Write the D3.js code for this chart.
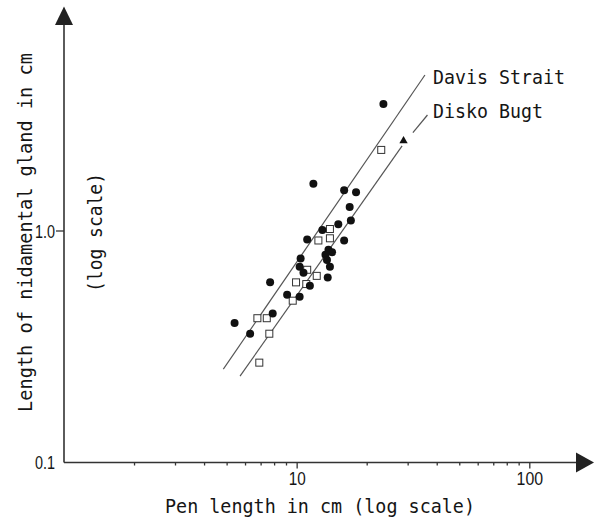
<!DOCTYPE html>
<html>
<head>
<meta charset="utf-8">
<script src="https://cdn.jsdelivr.net/npm/d3@7"></script>
<style>
  body { margin: 0; background: #fff; }
  svg { display: block; }
</style>
</head>
<body>
<div id="chart"></div>
<script>
// Filled circles: pen length (cm), nidamental gland length (cm)
const filledPen = [23.6, 11.8, 16.0, 18.0, 16.9, 17.1, 15.1, 12.9, 11.1, 16.0, 13.7, 14.2, 13.3,
                   13.5, 13.9, 10.4, 10.3, 10.7, 13.6, 7.69, 11.4, 10.3, 9.1, 7.89, 5.41, 6.31];
const filledGland = [3.54, 1.60, 1.50, 1.47, 1.27, 1.11, 1.07, 1.01, 0.92, 0.91, 0.83, 0.81, 0.79,
                     0.75, 0.70, 0.76, 0.70, 0.66, 0.63, 0.60, 0.58, 0.52, 0.53, 0.44, 0.40, 0.36];

// Open squares
const openPen = [23.1, 13.9, 12.4, 13.9, 11.1, 12.2, 9.94, 11.0, 9.62, 6.78, 7.44, 7.63, 6.91];
const openGland = [2.24, 1.02, 0.91, 0.93, 0.68, 0.64, 0.60, 0.59, 0.50, 0.42, 0.42, 0.36, 0.27];

// Filled triangle
const trianglePen = [28.8];
const triangleGland = [2.45];

// Regression lines (end points in data units)
const davisLine = [[4.84, 0.253], [35.6, 4.72]];
const diskoLine = [[5.71, 0.236], [28.4, 2.33]];
const diskoLeader = [[31.6, 2.66], [36.5, 3.17]];

// Tick values
const xMajor = [10, 100];
const xMinor = [2, 3, 4, 5, 6, 7, 8, 9, 20, 30, 40, 50, 60, 70, 80, 90];
const yTickLabels = [{ v: 0.1, t: "0.1" }, { v: 1, t: "1.0" }];

const width = 603;
const height = 519;

const svg = d3.select("#chart")
  .append("svg")
  .attr("width", width)
  .attr("height", height);

svg.append("rect").attr("width", width).attr("height", height).attr("fill", "#fff");

// log scales: origin at (1, 0.1)
const x = d3.scaleLog().domain([1, 100]).range([64, 529.3]);
const y = d3.scaleLog().domain([0.1, 1]).range([462.5, 231]);

const axisColor = "#333";
const textColor = "#151515";
const mono = "'DejaVu Sans Mono', monospace";
const sans = "'Liberation Sans', Arial, sans-serif";

// x axis minor ticks
svg.append("g")
  .attr("transform", `translate(0,${y(0.1)})`)
  .call(d3.axisBottom(x).tickValues(xMinor).tickSize(3).tickFormat(""))
  .call(g => g.select(".domain").remove())
  .call(g => g.selectAll("line").attr("stroke", axisColor).attr("stroke-width", 1.3));

// x axis major ticks
svg.append("g")
  .attr("transform", `translate(0,${y(0.1)})`)
  .call(d3.axisBottom(x).tickValues(xMajor).tickSize(6).tickPadding(4).tickFormat(d3.format("d")))
  .call(g => g.select(".domain").remove())
  .call(g => g.selectAll("line").attr("stroke", axisColor).attr("stroke-width", 1.3))
  .call(g => g.selectAll("text")
    .attr("fill", textColor)
    .style("font-family", sans)
    .style("font-size", "18px")
    .attr("textLength", d => d === 10 ? 17 : 26.5)
    .attr("lengthAdjust", "spacingAndGlyphs"));

// y axis tick (only 1.0 has a visible tick)
svg.append("line")
  .attr("x1", x(1) - 8).attr("x2", x(1))
  .attr("y1", y(1)).attr("y2", y(1))
  .attr("stroke", axisColor).attr("stroke-width", 1.3);

svg.selectAll("text.ylab")
  .data(yTickLabels)
  .enter()
  .append("text")
  .attr("class", "ylab")
  .attr("x", x(1) - 9)
  .attr("y", d => y(d.v) + 6.5)
  .attr("text-anchor", "end")
  .attr("fill", textColor)
  .style("font-family", sans)
  .style("font-size", "18px")
  .attr("textLength", 20)
  .attr("lengthAdjust", "spacingAndGlyphs")
  .text(d => d.t);

// axis lines with arrow heads
const x0 = x(1), y0 = y(0.1);
svg.append("line")
  .attr("x1", x0).attr("x2", 580)
  .attr("y1", y0).attr("y2", y0)
  .attr("stroke", axisColor).attr("stroke-width", 1.6);
svg.append("path")
  .attr("d", `M576,${y0 - 10}L594,${y0}L576,${y0 + 10}Z`)
  .attr("fill", "#222");

svg.append("line")
  .attr("x1", x0).attr("x2", x0)
  .attr("y1", y0).attr("y2", 22)
  .attr("stroke", axisColor).attr("stroke-width", 1.6);
svg.append("path")
  .attr("d", `M${x0 - 9},25L${x0},6.5L${x0 + 9},25Z`)
  .attr("fill", "#222");

// regression lines
const line = d3.line().x(d => x(d[0])).y(d => y(d[1]));
[davisLine, diskoLine, diskoLeader].forEach(pts => {
  svg.append("path")
    .datum(pts)
    .attr("d", line)
    .attr("fill", "none")
    .attr("stroke", "#555")
    .attr("stroke-width", 1.2);
});

// open squares
const sq = 7;
svg.selectAll("rect.open")
  .data(openPen.map((p, i) => [p, openGland[i]]))
  .enter()
  .append("rect")
  .attr("class", "open")
  .attr("x", d => x(d[0]) - sq / 2)
  .attr("y", d => y(d[1]) - sq / 2)
  .attr("width", sq)
  .attr("height", sq)
  .attr("fill", "#fff")
  .attr("stroke", "#333")
  .attr("stroke-width", 1);

// filled circles
svg.selectAll("circle.filled")
  .data(filledPen.map((p, i) => [p, filledGland[i]]))
  .enter()
  .append("circle")
  .attr("class", "filled")
  .attr("cx", d => x(d[0]))
  .attr("cy", d => y(d[1]))
  .attr("r", 4)
  .attr("fill", "#111");

// triangle
svg.selectAll("path.tri")
  .data(trianglePen.map((p, i) => [p, triangleGland[i]]))
  .enter()
  .append("path")
  .attr("class", "tri")
  .attr("d", d3.symbol().type(d3.symbolTriangle).size(30))
  .attr("transform", d => `translate(${x(d[0])},${y(d[1])})`)
  .attr("fill", "#111");

// line labels
svg.append("text")
  .attr("x", 433).attr("y", 83.5)
  .attr("fill", textColor)
  .style("font-family", mono).style("font-size", "20px")
  .attr("textLength", 132).attr("lengthAdjust", "spacingAndGlyphs")
  .text("Davis Strait");
svg.append("text")
  .attr("x", 433).attr("y", 117.5)
  .attr("fill", textColor)
  .style("font-family", mono).style("font-size", "20px")
  .attr("textLength", 110).attr("lengthAdjust", "spacingAndGlyphs")
  .text("Disko Bugt");

// axis titles
svg.append("text")
  .attr("x", 165).attr("y", 513)
  .attr("fill", textColor)
  .style("font-family", mono).style("font-size", "19px")
  .attr("textLength", 310).attr("lengthAdjust", "spacingAndGlyphs")
  .text("Pen length in cm (log scale)");

svg.append("text")
  .attr("transform", "translate(32,412) rotate(-90)")
  .attr("fill", textColor)
  .style("font-family", mono).style("font-size", "19px")
  .attr("textLength", 359).attr("lengthAdjust", "spacingAndGlyphs")
  .text("Length of nidamental gland in cm");

svg.append("text")
  .attr("transform", "translate(102,292) rotate(-90)")
  .attr("fill", textColor)
  .style("font-family", mono).style("font-size", "19px")
  .attr("textLength", 119).attr("lengthAdjust", "spacingAndGlyphs")
  .text("(log scale)");
</script>
</body>
</html>
